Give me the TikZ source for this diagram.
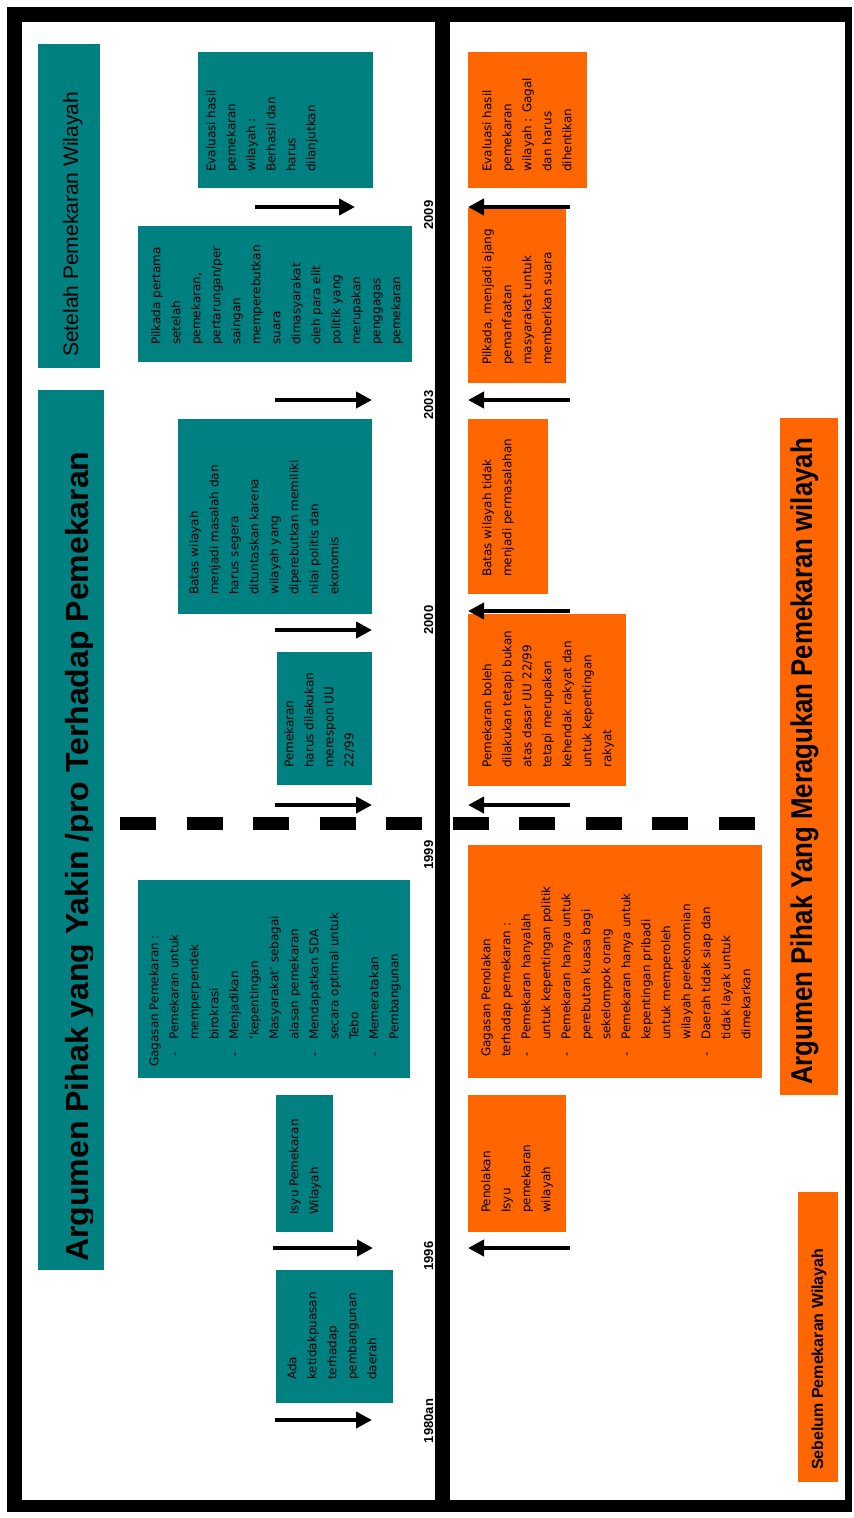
\documentclass[tikz,border=0pt]{standalone}
\usepackage{fontspec}
\setmainfont{DejaVu Sans}
\newfontfamily\headfont{Liberation Sans}
\newfontfamily\narrowfont[FakeStretch=0.86]{Liberation Sans}
\usetikzlibrary{arrows.meta}

\definecolor{probg}{HTML}{008080}
\definecolor{conbg}{HTML}{FF6600}
\newcommand{\bul}{\makebox[17pt][l]{-}}
\newcommand{\cnt}{\hspace*{17pt}}

\begin{document}
\begin{tikzpicture}[x=1pt,y=-1pt,
  probox/.style={fill=probg,rotate=90,anchor=north west,inner sep=0pt},
  conbox/.style={fill=conbg,rotate=90,anchor=north west,inner sep=0pt},
  boxtext/.style={rotate=90,anchor=north west,inner sep=0pt,align=left,font=\fontsize{12}{20}\selectfont},
  head/.style={rotate=90,anchor=base west,inner sep=0pt},
  year/.style={rotate=90,anchor=base,inner sep=0pt,font=\headfont\bfseries\fontsize{13}{13}\selectfont},
  timearrow/.style={line width=4.5pt,-{Triangle[length=16pt,width=16pt]}}]
\useasboundingbox (0,0) rectangle (854,1518);
\fill[white] (0,0) rectangle (854,1518);
\fill[black] (7,7) rectangle (852,1512);
\fill[white] (22,22) rectangle (435,1500);
\fill[white] (450,22) rectangle (845,1500);

% pihak pro
\node[probox,minimum width=880pt,minimum height=66pt] (titlepro) at (38,1270) {};
\begin{scope}
\clip (38,390) rectangle (92,1270);
\node[head,font=\headfont\bfseries\fontsize{32}{32}\selectfont] (titleproT) at ([shift={(50,-8)}]titlepro.north west) {Argumen Pihak yang Yakin /pro Terhadap Pemekaran};
\end{scope}
\node[probox,minimum width=324pt,minimum height=62pt] (setelah) at (38,368) {};
\node[head,font=\headfont\fontsize{21}{21}\selectfont] (setelahT) at ([shift={(40,-11)}]setelah.north west) {Setelah Pemekaran Wilayah};

\node[probox,minimum width=136pt,minimum height=175pt] (evalpro) at (198,188) {};
\node[boxtext] (evalproT) at ([shift={(8,-16)}]evalpro.north west) {Evaluasi hasil\\pemekaran\\wilayah :\\Berhasil dan\\harus\\dilanjutkan};
\node[probox,minimum width=136pt,minimum height=274pt] (pilkadapro) at (138,362) {};
\node[boxtext] (pilkadaproT) at ([shift={(13,-17)}]pilkadapro.north west) {Pilkada pertama\\setelah\\pemekaran,\\pertarungan/per\\saingan\\memperebutkan\\suara\\dimasyarakat\\oleh para elit\\politik yang\\merupakan\\penggagas\\pemekaran};
\node[probox,minimum width=195pt,minimum height=194pt] (bataspro) at (178,614) {};
\node[boxtext] (batasproT) at ([shift={(11,-19)}]bataspro.north west) {Batas wilayah\\menjadi masalah dan\\harus segera\\dituntaskan karena\\wilayah yang\\diperebutkan memiliki\\nilai politis dan\\ekonomis};
\node[probox,minimum width=133pt,minimum height=95pt] (uupro) at (277,785) {};
\node[boxtext] (uuproT) at ([shift={(7,-17)}]uupro.north west) {Pemekaran\\harus dilakukan\\merespon UU\\22/99};
\node[probox,minimum width=198pt,minimum height=272pt] (gagasanpro) at (138,1078) {};
\node[boxtext] (gagasanproT) at ([shift={(11,-21)}]gagasanpro.north west) {\hspace*{-10pt}Gagasan Pemekaran :\\\bul Pemekaran untuk\\\cnt memperpendek\\\cnt birokrasi\\\bul Menjadikan\\\cnt `kepentingan\\\cnt Masyarakat' sebagai\\\cnt alasan pemekaran\\\bul Mendapatkan SDA\\\cnt secara optimal untuk\\\cnt Tebo\\\bul Memeratakan\\\cnt Pembangunan};
\node[probox,minimum width=137pt,minimum height=57pt] (isyupro) at (276,1232) {};
\node[boxtext] (isyuproT) at ([shift={(13,-17)}]isyupro.north west) {Isyu Pemekaran\\Wilayah};
\node[probox,minimum width=133pt,minimum height=117pt] (adapro) at (276,1403) {};
\node[boxtext] (adaproT) at ([shift={(11,-23)}]adapro.north west) {Ada\\ketidakpuasan\\terhadap\\pembangunan\\daerah};

% pihak kontra
\node[conbox,minimum width=677pt,minimum height=58pt] (titlecon) at (780,1095) {};
\node[head,font=\narrowfont\bfseries\fontsize{30}{30}\selectfont] (titleconT) at ([shift={(32,-10)}]titlecon.north west) {Argumen Pihak Yang Meragukan Pemekaran wilayah};
\node[conbox,minimum width=290pt,minimum height=40pt] (sebelum) at (798,1482) {};
\node[head,font=\headfont\bfseries\fontsize{16}{16}\selectfont] (sebelumT) at ([shift={(25,-12)}]sebelum.north west) {Sebelum Pemekaran Wilayah};

\node[conbox,minimum width=136pt,minimum height=119pt] (evalcon) at (468,188) {};
\node[boxtext] (evalconT) at ([shift={(14,-16)}]evalcon.north west) {Evaluasi hasil\\pemekaran\\wilayah : Gagal\\dan harus\\dihentikan};
\node[conbox,minimum width=175pt,minimum height=98pt] (pilkadacon) at (468,383) {};
\node[boxtext] (pilkadaconT) at ([shift={(14,-18)}]pilkadacon.north west) {Pilkada, menjadi ajang\\pemanfaatan\\masyarakat untuk\\memberikan suara};
\node[conbox,minimum width=175pt,minimum height=80pt] (batascon) at (468,594) {};
\node[boxtext] (batasconT) at ([shift={(14,-17)}]batascon.north west) {Batas wilayah tidak\\menjadi permasalahan};
\node[conbox,minimum width=172pt,minimum height=158pt] (uucon) at (468,786) {};
\node[boxtext] (uuconT) at ([shift={(14,-18)}]uucon.north west) {Pemekaran boleh\\dilakukan tetapi bukan\\atas dasar UU 22/99\\tetapi merupakan\\kehendak rakyat dan\\untuk kepentingan\\rakyat};
\node[conbox,minimum width=233pt,minimum height=294pt] (gagasancon) at (468,1078) {};
\node[boxtext] (gagasanconT) at ([shift={(13,-21)}]gagasancon.north west) {Gagasan Penolakan\\terhadap pemekaran :\\\bul Pemekaran hanyalah\\\cnt untuk kepentingan politik\\\bul Pemekaran hanya untuk\\\cnt perebutan kuasa bagi\\\cnt sekelompok orang\\\bul Pemekaran hanya untuk\\\cnt kepentingan pribadi\\\cnt untuk memperoleh\\\cnt wilayah perekonomian\\\bul Daerah tidak siap dan\\\cnt tidak layak untuk\\\cnt dimekarkan};
\node[conbox,minimum width=137pt,minimum height=98pt] (penolakancon) at (468,1232) {};
\node[boxtext] (penolakanconT) at ([shift={(13,-19)}]penolakancon.north west) {Penolakan\\Isyu\\pemekaran\\wilayah};

% tahun
\node[year] (y2009) at (433,215) {2009};
\node[year] (y2003) at (433,405) {2003};
\node[year] (y2000) at (433,620) {2000};
\node[year] (y1999) at (433,855) {1999};
\node[year] (y1996) at (433,1256) {1996};
\node[year] (y1980) at (433,1421) {1980an};

\coordinate (dashL) at (120,823);
\coordinate (dashR) at (755,823);
\draw[line width=13pt,dash pattern=on 36pt off 30.5pt] (dashL) -- (dashR);

\foreach \n/\y/\a/\b in {1/207/255/355,2/400/275/372,3/630/275/372,4/805/275/372,5/1248/273/373,6/1420/275/372}{
  \coordinate (pa\n) at (\a,\y);
  \coordinate (pb\n) at (\b,\y);
  \draw[timearrow] (pa\n) -- (pb\n);
}
\foreach \n/\y in {1/207,2/400,3/611,4/805,5/1248}{
  \coordinate (ka\n) at (570,\y);
  \coordinate (kb\n) at (468,\y);
  \draw[timearrow] (ka\n) -- (kb\n);
}
\end{tikzpicture}
\end{document}
